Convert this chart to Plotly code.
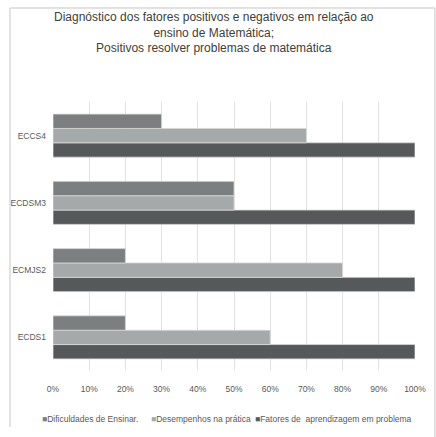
import plotly.graph_objects as go

categories = ["ECDS1", "ECMJS2", "ECDSM3", "ECCS4"]
dificuldades = [20, 20, 50, 30]
desempenhos = [60, 80, 50, 70]
fatores = [100, 100, 100, 100]
x_ticks = [0, 10, 20, 30, 40, 50, 60, 70, 80, 90, 100]
x_tick_labels = [f"{v}%" for v in x_ticks]

FONT = "Liberation Sans, Arial, sans-serif"
TEXT = "#595959"
TITLE = ("Diagnóstico dos fatores positivos e negativos em relação ao<br>"
         "ensino de Matemática;<br>Positivos resolver problemas de matemática")

# legend entries in display order: (label, values, colour, left edge in paper x)
series = [
    ("Dificuldades de Ensinar.", dificuldades, "#7b7f7f", -0.036),
    ("Desempenhos na prática", desempenhos, "#a6a9a9", 0.266),
    ("Fatores de  aprendizagem em problema", fatores, "#555959", 0.553),
]

fig = go.Figure()
# horizontal grouped bars stack their traces upward, so add them in reverse
for name, vals, color, _ in reversed(series):
    fig.add_trace(go.Bar(
        y=categories, x=vals, name=name, orientation="h",
        marker=dict(color=color, line=dict(color="#d9d9d9", width=0.8)),
    ))

# legend drawn as a single row of square-marker labels
for name, _, color, x0 in series:
    fig.add_annotation(
        xref="paper", yref="paper", x=x0, y=-0.178,
        xanchor="left", yanchor="middle", showarrow=False,
        text=f"<span style='color:{color}'>■</span>{name.replace('  ', '&nbsp; ')}",
        font=dict(family=FONT, size=8.5, color=TEXT),
    )

# three-line chart title
fig.add_annotation(
    xref="paper", yref="paper", x=0.446, y=1.35,
    xanchor="center", yanchor="top", showarrow=False,
    text=TITLE, align="center",
    font=dict(family=FONT, size=12, color="#404040"),
)

fig.update_layout(
    width=436, height=437,
    margin=dict(l=53, r=21, t=102, b=66, autoexpand=False),
    paper_bgcolor="white", plot_bgcolor="white",
    barmode="group", bargap=0.36, bargroupgap=0,
    font=dict(family=FONT, color=TEXT, size=9),
    showlegend=False,
    xaxis=dict(
        range=[0, 100], tickvals=x_ticks, ticktext=x_tick_labels,
        showgrid=True, gridcolor="#e3e3e3", gridwidth=1,
        zeroline=False, showline=False, ticks="", automargin=False,
        ticklabelstandoff=11,
        tickfont=dict(family=FONT, size=8.5, color=TEXT),
    ),
    yaxis=dict(
        categoryorder="array", categoryarray=categories,
        showgrid=False, zeroline=False, showline=False, ticks="",
        automargin=False, ticklabelstandoff=6,
        tickfont=dict(family=FONT, size=8.5, color=TEXT),
    ),
)

# outer chart frame
frame = dict(type="line", xref="paper", yref="paper", line=dict(color="#d9d9d9", width=1.5))
fig.add_shape(**frame, x0=-0.1188, x1=-0.1188, y0=1.349, y1=-0.208)
fig.add_shape(**frame, x0=-0.1188, x1=1.055, y0=1.349, y1=1.349)
fig.add_shape(**frame, x0=1.055, x1=1.055, y0=1.349, y1=-0.245)

fig.write_html("out.html")
